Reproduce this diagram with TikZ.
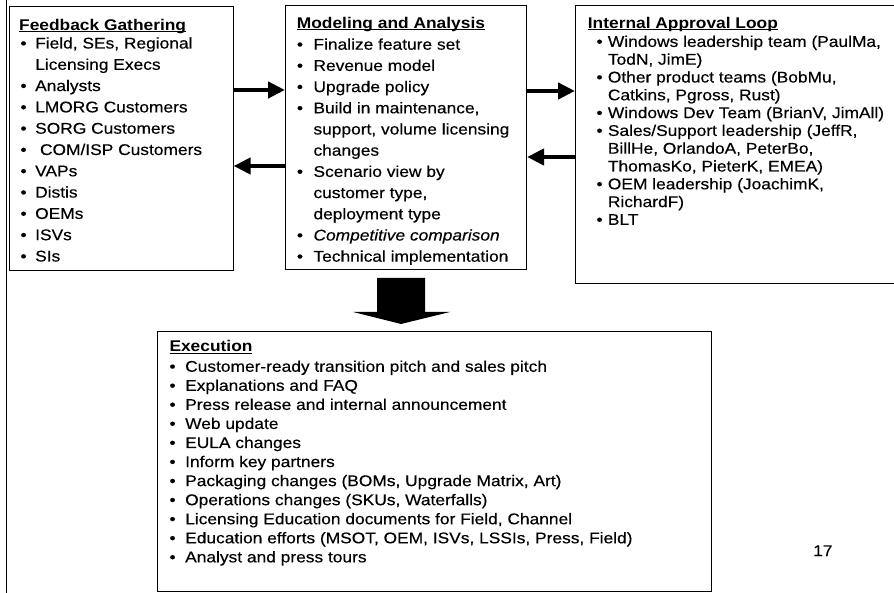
\documentclass[tikz,border=0pt]{standalone}
\usepackage{fontspec}
\setmainfont{Liberation Sans}[FakeStretch=1.12,UprightFeatures={FakeBold=0.35},ItalicFeatures={FakeBold=0.35}]
\usetikzlibrary{arrows.meta}
\newlength\bulx
\newlength\txtx
\newcommand\bu{\makebox[\txtx][l]{\hspace*{\bulx}\textbullet}}
\newcommand\cn{\hspace*{\txtx}}
\newsavebox\ttlbox
\newcommand\ttl[1]{\leavevmode\sbox\ttlbox{\bfseries #1}\rlap{\rule[-2pt]{\wd\ttlbox}{1.1pt}}\usebox\ttlbox}
\begin{document}
\begin{tikzpicture}[x=1pt,y=-1pt,
  box/.style={draw, line width=1.1pt, inner sep=0pt, anchor=north west},
  txt/.style={inner sep=0pt, anchor=base west},
  bigarrow/.style={line width=4.8pt, -{Triangle[length=17pt,width=16pt]}}]
\useasboundingbox (0,0) rectangle (894,593);
\clip (0,0) rectangle (894,593);
% page margin line
\draw[line width=1.6pt] (6.5,0) -- (6.5,593);
% boxes
\node[box, minimum width=224pt, minimum height=264pt] (fb) at (8.5,6) {};
\node[box, minimum width=241pt, minimum height=264pt] (ma) at (285,5) {};
\node[box, minimum width=340pt, minimum height=278pt] (ia) at (575,5) {};
\node[box, minimum width=554pt, minimum height=260pt] (ex) at (157,331) {};
% texts
\node[txt] (fbt) at (19,30.5) {\begin{minipage}[t]{210pt}\setlength\bulx{1.3pt}\setlength\txtx{16pt}\fontsize{15.5pt}{21.3pt}\selectfont
\ttl{Feedback Gathering}\\[-3.3pt]
\bu Field, SEs, Regional\\
\cn Licensing Execs\\
\bu Analysts\\
\bu LMORG Customers\\
\bu SORG Customers\\
\bu \ COM/ISP Customers\\
\bu VAPs\\
\bu Distis\\
\bu OEMs\\
\bu ISVs\\
\bu SIs
\end{minipage}};
\node[txt] (mat) at (296.7,28.5) {\begin{minipage}[t]{230pt}\setlength\bulx{0pt}\setlength\txtx{16.6pt}\fontsize{15.5pt}{21.2pt}\selectfont
\ttl{Modeling and Analysis}\\
\bu Finalize feature set\\
\bu Revenue model\\
\bu Upgrade policy\\
\bu Build in maintenance,\\
\cn support, volume licensing\\
\cn changes\\
\bu Scenario view by\\
\cn customer type,\\
\cn deployment type\\
\bu \textit{Competitive comparison}\\
\bu Technical implementation
\end{minipage}};
\node[txt] (iat) at (587.7,28.5) {\begin{minipage}[t]{300pt}\setlength\bulx{8.6pt}\setlength\txtx{20pt}\fontsize{15.5pt}{17.8pt}\selectfont
\ttl{Internal Approval Loop}\\[0.6pt]
\bu Windows leadership team (PaulMa,\\
\cn TodN, JimE)\\
\bu Other product teams (BobMu,\\
\cn Catkins, Pgross, Rust)\\
\bu Windows Dev Team (BrianV, JimAll)\\
\bu Sales/Support leadership (JeffR,\\
\cn BillHe, OrlandoA, PeterBo,\\
\cn ThomasKo, PieterK, EMEA)\\
\bu OEM leadership (JoachimK,\\
\cn RichardF)\\
\bu BLT
\end{minipage}};
\node[txt] (ext) at (169.3,351.7) {\begin{minipage}[t]{530pt}\setlength\bulx{0pt}\setlength\txtx{15.7pt}\fontsize{15.5pt}{19.06pt}\selectfont
\ttl{Execution}\\[1pt]
\bu Customer-ready transition pitch and sales pitch\\
\bu Explanations and FAQ\\
\bu Press release and internal announcement\\
\bu Web update\\
\bu EULA changes\\
\bu Inform key partners\\
\bu Packaging changes (BOMs, Upgrade Matrix, Art)\\
\bu Operations changes (SKUs, Waterfalls)\\
\bu Licensing Education documents for Field, Channel\\
\bu Education efforts (MSOT, OEM, ISVs, LSSIs, Press, Field)\\
\bu Analyst and press tours
\end{minipage}};
\node[txt] (pg) at (813,556) {\fontsize{15.5pt}{18pt}\selectfont 17};
% connectors
\draw[bigarrow] (fb.east |- 0,90) -- (ma.west |- 0,90);
\draw[bigarrow] (ma.west |- 0,166) -- (fb.east |- 0,166);
\draw[bigarrow] (ma.east |- 0,91) -- (ia.west |- 0,91);
\draw[bigarrow] (ia.west |- 0,157) -- (ma.east |- 0,157);
% block arrow down
\fill (377,278) -- (425,278) -- (425,312) -- (450,312) -- (401,324) -- (353,312) -- (377,312) -- cycle;
\end{tikzpicture}
\end{document}
